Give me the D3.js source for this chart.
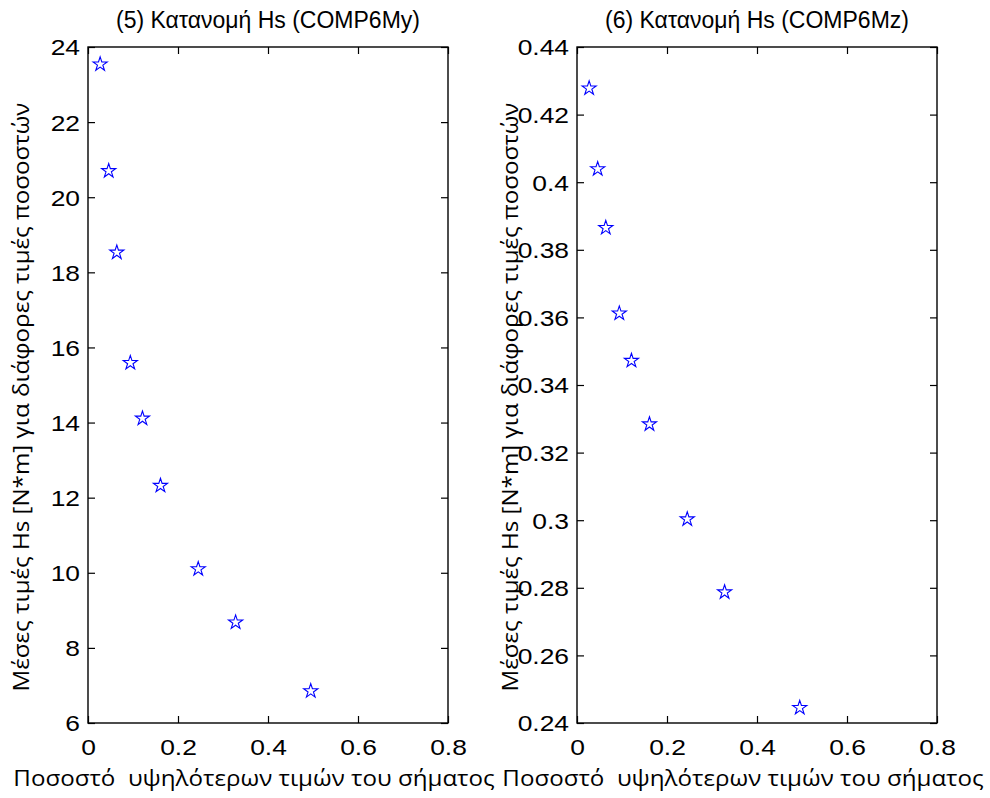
<!DOCTYPE html>
<html>
<head>
<meta charset="utf-8">
<script src="https://cdn.jsdelivr.net/npm/d3@7"></script>
<style>
  html, body { margin: 0; padding: 0; background: #fff; }
  svg { display: block; }
</style>
</head>
<body>
<div id="chart"></div>
<script>
// ---- data ----
const percentages = [0.027, 0.046, 0.064, 0.094, 0.121, 0.161, 0.245, 0.328, 0.495];
const hsMy = [23.54, 20.70, 18.53, 15.59, 14.11, 12.32, 10.10, 8.68, 6.85];
const hsMz = [0.4278, 0.4039, 0.3865, 0.3612, 0.3472, 0.3284, 0.3003, 0.2787, 0.2445];
const xTicks = [0, 0.2, 0.4, 0.6, 0.8];
const yTicksMy = [6, 8, 10, 12, 14, 16, 18, 20, 22, 24];
const yTicksMz = [0.24, 0.26, 0.28, 0.30, 0.32, 0.34, 0.36, 0.38, 0.40, 0.42, 0.44];
const yTickLabelsMz = ["0.24", "0.26", "0.28", "0.3", "0.32", "0.34", "0.36", "0.38", "0.4", "0.42", "0.44"];
const titles = ["(5) Κατανομή Hs (COMP6My)", "(6) Κατανομή Hs (COMP6Mz)"];
const yLabel = "Μέσες τιμές Hs [N*m] για διάφορες τιμές ποσοστών";
const xLabel = "Ποσοστό  υψηλότερων τιμών του σήματος";

// ---- layout ----
const W = 990, H = 798;
const svg = d3.select("#chart").append("svg").attr("width", W).attr("height", H);
svg.append("rect").attr("width", W).attr("height", H).attr("fill", "#fff");

const tickFont = "'Liberation Sans', Arial, sans-serif";
const labelFont = "'Open Sans', 'DejaVu Sans', sans-serif";
const SX = 1.2;   // horizontal stretch of tick labels
const LS = 1.15;  // stretch of axis labels along text direction

const panels = [
  { left: 88, right: 448, top: 47, bottom: 723, yDomain: [6, 24], yTicks: yTicksMy,
    yFmt: d => String(d), values: hsMy, title: titles[0], yLabelBase: 29, xLabelX: 254 },
  { left: 577, right: 937, top: 47, bottom: 723, yDomain: [0.24, 0.44], yTicks: yTicksMz,
    yFmt: (d, i) => yTickLabelsMz[i], values: hsMz, title: titles[1], yLabelBase: 518, xLabelX: 743 }
];

const star = d3.symbol().type(d3.symbolStar).size(62);

panels.forEach(p => {
  const x = d3.scaleLinear().domain([0, 0.8]).range([p.left, p.right]);
  const y = d3.scaleLinear().domain(p.yDomain).range([p.bottom, p.top]);
  const g = svg.append("g");

  const styleAxis = sel => {
    sel.select(".domain").remove();
    sel.selectAll("line").attr("stroke", "#000").attr("stroke-width", 1.2);
    sel.selectAll("text").attr("fill", "#000")
      .style("font-family", tickFont).style("font-size", "22px");
  };

  // bottom axis
  const gb = g.append("g").attr("transform", `translate(0,${p.bottom})`)
    .call(d3.axisBottom(x).tickValues(xTicks).tickFormat(d => String(d))
      .tickSizeInner(-7).tickSizeOuter(0).tickPadding(16));
  styleAxis(gb);
  gb.selectAll("text").attr("transform", `scale(${SX},1)`);

  // top axis
  const gt = g.append("g").attr("transform", `translate(0,${p.top})`)
    .call(d3.axisTop(x).tickValues(xTicks).tickFormat("").tickSizeInner(-7).tickSizeOuter(0));
  styleAxis(gt);

  // left axis
  const gl = g.append("g").attr("transform", `translate(${p.left},0)`)
    .call(d3.axisLeft(y).tickValues(p.yTicks).tickFormat(p.yFmt)
      .tickSizeInner(-7).tickSizeOuter(0).tickPadding(8 / SX));
  styleAxis(gl);
  gl.selectAll("text").attr("transform", `scale(${SX},1)`).attr("dy", "0.36em");

  // right axis
  const gr = g.append("g").attr("transform", `translate(${p.right},0)`)
    .call(d3.axisRight(y).tickValues(p.yTicks).tickFormat("").tickSizeInner(-7).tickSizeOuter(0));
  styleAxis(gr);

  // box
  g.append("rect").attr("x", p.left).attr("y", p.top)
    .attr("width", p.right - p.left).attr("height", p.bottom - p.top)
    .attr("fill", "none").attr("stroke", "#000").attr("stroke-width", 1.4);

  // markers
  g.selectAll("path.pt").data(percentages.map((v, i) => [v, p.values[i]]))
    .enter().append("path").attr("class", "pt")
    .attr("d", star)
    .attr("transform", d => `translate(${x(d[0])},${y(d[1])})`)
    .attr("fill", "none").attr("stroke", "#0000ff").attr("stroke-width", 1.1);

  // title
  const cx = (p.left + p.right) / 2;
  svg.append("text").attr("transform", `translate(${cx},28)`)
    .attr("text-anchor", "middle")
    .style("font-family", tickFont).style("font-size", "23px").attr("fill", "#000")
    .text(p.title);

  // y label
  svg.append("text").attr("transform", `translate(${p.yLabelBase},${(p.top + p.bottom) / 2 + 12}) rotate(-90) scale(${LS},1)`)
    .attr("text-anchor", "middle")
    .style("font-family", labelFont).style("font-size", "21px").attr("fill", "#000")
    .text(yLabel);

  // x label
  svg.append("text").attr("transform", `translate(${p.xLabelX},786) scale(${LS},1)`)
    .attr("text-anchor", "middle").style("white-space", "pre")
    .style("font-family", labelFont).style("font-size", "21px").attr("fill", "#000")
    .text(xLabel);
});
</script>
</body>
</html>
